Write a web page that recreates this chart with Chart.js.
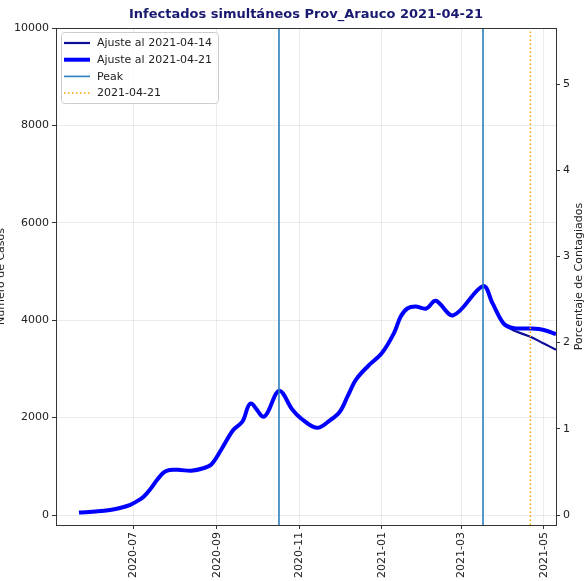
<!DOCTYPE html>
<html>
<head>
<meta charset="utf-8">
<script src="https://cdn.jsdelivr.net/npm/chart.js@4.4.1/dist/chart.umd.min.js"></script>
<style>
  html, body { margin: 0; padding: 0; background: #fff; }
</style>
</head>
<body>
<canvas id="chart" width="586" height="581"></canvas>
<script>
// Fitted curve, common part of both fits
const sharedDates = ['2020-05-22','2020-06-05','2020-06-14','2020-06-22','2020-06-29','2020-07-05','2020-07-09',
    '2020-07-14','2020-07-19','2020-07-24','2020-07-28','2020-08-05','2020-08-13','2020-08-22','2020-08-28',
    '2020-09-04','2020-09-13','2020-09-20','2020-09-26','2020-10-06','2020-10-17','2020-10-27','2020-11-02',
    '2020-11-14','2020-11-24','2020-12-01','2020-12-07','2020-12-13','2020-12-22','2021-01-01','2021-01-10',
    '2021-01-15','2021-01-20','2021-01-26','2021-02-03','2021-02-10','2021-02-23','2021-03-17','2021-03-24',
    '2021-04-01'];
const sharedCases = [50, 75, 105, 150, 210, 300, 380,
    540, 730, 880, 925, 925, 910, 960, 1040,
    1330, 1740, 1920, 2290, 2020, 2550, 2160, 1990,
    1790, 1950, 2120, 2450, 2780, 3060, 3320, 3730,
    4070, 4240, 4280, 4240, 4400, 4100, 4700, 4350,
    3940];

// Tails where the two fits diverge
const tail21Dates = ['2021-04-08', '2021-04-21', '2021-05-01', '2021-05-10'];
const tail21Cases = [3840, 3830, 3800, 3715];
const tail14Dates = ['2021-04-08', '2021-04-21', '2021-05-01', '2021-05-10'];
const tail14Cases = [3800, 3660, 3520, 3395];

const peakDates = ['2020-10-17', '2021-03-17'];
const reportDate = '2021-04-21';

const tickDates = ['2020-07-01', '2020-09-01', '2020-11-01', '2021-01-01', '2021-03-01', '2021-05-01'];
const tickLabels = ['2020-07', '2020-09', '2020-11', '2021-01', '2021-03', '2021-05'];
const caseTicks = [0, 2000, 4000, 6000, 8000, 10000];
const pctTicks = [0, 1, 2, 3, 4, 5];

const POPULATION = 177000;
const X_START = '2020-05-05';
const X_END = '2021-05-10';
const Y_MIN = -205;
const Y_MAX = 10000;

const FONT = 'DejaVu Sans';
const BASE = '2020-07-01';

function toDay(s) {
    return (Date.parse(s) - Date.parse(BASE)) / 86400000;
}

function toPoints(dates, values) {
    return dates.map((d, i) => ({ x: toDay(d), y: values[i] }));
}

// vertical lines spanning the whole y range, separated by gaps
function vLines(dates) {
    const pts = [];
    dates.forEach((d, i) => {
        if (i > 0) pts.push({ x: toDay(d) - 1, y: null });
        pts.push({ x: toDay(d), y: Y_MIN }, { x: toDay(d), y: Y_MAX });
    });
    return pts;
}

const fit14 = toPoints(sharedDates, sharedCases).concat(toPoints(tail14Dates, tail14Cases));
const fit21 = toPoints(sharedDates, sharedCases).concat(toPoints(tail21Dates, tail21Cases));

// Title, top spine, right axis title and legend box
const extrasPlugin = {
    id: 'extras',
    afterDraw(chart) {
        const { ctx, chartArea: a } = chart;
        ctx.save();

        // top spine
        ctx.strokeStyle = '#333';
        ctx.lineWidth = 1;
        ctx.beginPath();
        ctx.moveTo(a.left, a.top + 0.5);
        ctx.lineTo(a.right, a.top + 0.5);
        ctx.stroke();

        // title
        ctx.fillStyle = '#191970';
        ctx.font = `bold 13px "${FONT}"`;
        ctx.textAlign = 'center';
        ctx.textBaseline = 'middle';
        ctx.fillText('Infectados simultáneos Prov_Arauco 2021-04-21', (a.left + a.right) / 2, 15);

        // right axis title (reads bottom to top)
        ctx.save();
        ctx.translate(579, (a.top + a.bottom) / 2);
        ctx.rotate(-Math.PI / 2);
        ctx.fillStyle = '#222';
        ctx.font = `11px "${FONT}"`;
        ctx.fillText('Porcentaje de Contagiados', 0, 0);
        ctx.restore();

        // legend
        const bx = 61, by = 32, bw = 157, bh = 71;
        ctx.fillStyle = 'rgba(255,255,255,0.8)';
        ctx.strokeStyle = '#cccccc';
        ctx.lineWidth = 1;
        ctx.beginPath();
        ctx.roundRect(bx + 0.5, by + 0.5, bw, bh, 3);
        ctx.fill();
        ctx.stroke();

        const items = chart.data.datasets.filter(ds => ds.legendRow !== undefined)
            .sort((p, q) => p.legendRow - q.legendRow);
        ctx.font = `11px "${FONT}"`;
        ctx.textAlign = 'left';
        items.forEach((ds, i) => {
            const y = 43 + i * 16.7;
            ctx.strokeStyle = ds.borderColor;
            ctx.lineWidth = ds.borderWidth;
            ctx.setLineDash(ds.borderDash || []);
            ctx.beginPath();
            ctx.moveTo(64, y);
            ctx.lineTo(90, y);
            ctx.stroke();
            ctx.setLineDash([]);
            ctx.fillStyle = '#222';
            ctx.fillText(ds.label, 97, y + 0.5);
        });

        ctx.restore();
    }
};

const ctx = document.getElementById('chart').getContext('2d');
new Chart(ctx, {
    type: 'line',
    data: {
        datasets: [
            {
                label: 'Peak',
                legendRow: 2,
                data: vLines(peakDates),
                borderColor: '#2b7fbd',
                borderWidth: 1.6,
                spanGaps: false,
                order: -1
            },
            {
                label: '2021-04-21',
                legendRow: 3,
                data: vLines([reportDate]),
                borderColor: '#ffa500',
                borderWidth: 1.5,
                borderDash: [1.5, 2.5],
                order: -1
            },
            {
                label: 'Ajuste al 2021-04-21',
                legendRow: 1,
                data: fit21,
                borderColor: '#0000ff',
                borderWidth: 4,
                tension: 0.35,
                order: 0
            },
            {
                label: 'Ajuste al 2021-04-14',
                legendRow: 0,
                data: fit14,
                borderColor: '#0c0c9a',
                borderWidth: 2.2,
                tension: 0.35,
                order: 1
            }
        ]
    },
    options: {
        responsive: false,
        animation: false,
        devicePixelRatio: 1,
        layout: { padding: { top: 28, left: 0, right: 0, bottom: 0 } },
        elements: { point: { radius: 0 } },
        plugins: {
            legend: { display: false },
            tooltip: { enabled: false }
        },
        scales: {
            x: {
                type: 'linear',
                min: toDay(X_START),
                max: toDay(X_END),
                afterBuildTicks: s => { s.ticks = tickDates.map(d => ({ value: toDay(d) })); },
                afterFit: s => { s.height = 56; },
                grid: { color: 'rgba(0,0,0,0.08)', tickColor: '#333', tickLength: 4 },
                border: { color: '#333', width: 1 },
                ticks: {
                    autoSkip: false,
                    minRotation: 90,
                    maxRotation: 90,
                    padding: 3,
                    color: '#222',
                    font: { family: FONT, size: 11 },
                    callback: (v, i) => tickLabels[i]
                }
            },
            y: {
                position: 'left',
                min: Y_MIN,
                max: Y_MAX,
                afterBuildTicks: s => { s.ticks = caseTicks.map(v => ({ value: v })); },
                afterFit: s => { s.width = 56; },
                grid: { color: 'rgba(0,0,0,0.08)', tickColor: '#333', tickLength: 4 },
                border: { color: '#333', width: 1 },
                ticks: {
                    padding: 3,
                    color: '#222',
                    font: { family: FONT, size: 11 },
                    callback: v => String(v)
                },
                title: {
                    display: true,
                    text: 'Número de Casos',
                    color: '#222',
                    font: { family: FONT, size: 11 },
                    padding: { top: -5, bottom: 0 }
                }
            },
            y1: {
                position: 'right',
                min: Y_MIN / POPULATION * 100,
                max: Y_MAX / POPULATION * 100,
                afterBuildTicks: s => { s.ticks = pctTicks.map(v => ({ value: v })); },
                afterFit: s => { s.width = 30; },
                grid: { drawOnChartArea: false, tickColor: '#333', tickLength: 4 },
                border: { color: '#333', width: 1 },
                ticks: {
                    padding: 3,
                    color: '#222',
                    font: { family: FONT, size: 11 },
                    callback: v => String(v)
                }
            }
        }
    },
    plugins: [extrasPlugin]
});
</script>
</body>
</html>
